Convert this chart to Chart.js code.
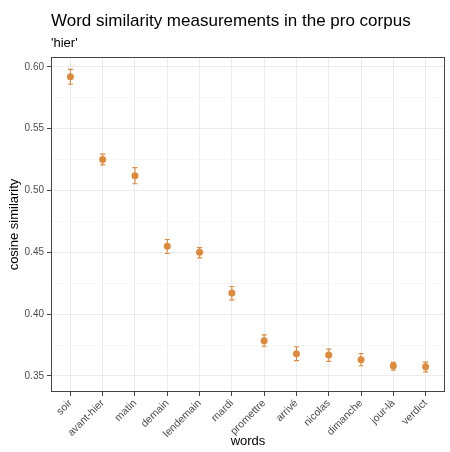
<!DOCTYPE html>
<html>
<head>
<meta charset="utf-8">
<script src="https://cdn.jsdelivr.net/npm/chart.js@4"></script>
<style>
  html, body { margin: 0; padding: 0; background: #fff; }
  #wrap { width: 450px; height: 452px; }
</style>
</head>
<body>
<div id="wrap"><canvas id="chart" width="450" height="452"></canvas></div>
<script>
// ---- data ----
const words = ['soir', 'avant-hier', 'matin', 'demain', 'lendemain', 'mardi',
               'promettre', 'arrivé', 'nicolas', 'dimanche', 'jour-là', 'verdict'];
const similarity = [0.592, 0.525, 0.512, 0.455, 0.450, 0.417,
                    0.3785, 0.368, 0.367, 0.363, 0.358, 0.3575];
const lower = [0.586, 0.5207, 0.5055, 0.449, 0.4455, 0.4115,
               0.374, 0.3624, 0.3618, 0.3582, 0.3546, 0.3533];
const upper = [0.598, 0.5294, 0.5185, 0.4604, 0.4538, 0.4223,
               0.3832, 0.3736, 0.3717, 0.3681, 0.361, 0.3612];
const yTicks = [0.35, 0.375, 0.40, 0.425, 0.45, 0.475, 0.50, 0.525, 0.55, 0.575, 0.60];
const yLabelled = [0.35, 0.40, 0.45, 0.50, 0.55, 0.60];

const ORANGE = '#dd8a3b';
const FONT = "'Liberation Sans', Arial, sans-serif";

const isMajor = v => yLabelled.some(t => Math.abs(t - v) < 1e-6);

// error bars + panel border + titles
const extras = {
    id: 'extras',
    beforeDatasetsDraw(chart) {
        const { ctx } = chart;
        const x = chart.scales.x, y = chart.scales.y;
        ctx.save();
        ctx.strokeStyle = ORANGE;
        ctx.lineWidth = 1.1;
        words.forEach((w, i) => {
            const px = x.getPixelForValue(i);
            const top = y.getPixelForValue(upper[i]);
            const bot = y.getPixelForValue(lower[i]);
            ctx.beginPath();
            ctx.moveTo(px, top); ctx.lineTo(px, bot);
            ctx.moveTo(px - 2.5, top); ctx.lineTo(px + 2.5, top);
            ctx.moveTo(px - 2.5, bot); ctx.lineTo(px + 2.5, bot);
            ctx.stroke();
        });
        ctx.restore();
    },
    afterDraw(chart) {
        const { ctx, chartArea: a } = chart;
        ctx.save();
        ctx.strokeStyle = '#444';
        ctx.lineWidth = 1;
        ctx.strokeRect(a.left + 0.5, a.top + 0.5, a.right - a.left - 1, a.bottom - a.top - 1);
        ctx.fillStyle = '#000';
        ctx.textBaseline = 'alphabetic';
        ctx.textAlign = 'left';
        ctx.font = `17px ${FONT}`;
        ctx.fillText('Word similarity measurements in the pro corpus', a.left, 26);
        ctx.font = `13px ${FONT}`;
        ctx.fillText("'hier'", a.left, 47);
        ctx.restore();
    }
};

new Chart(document.getElementById('chart'), {
    type: 'scatter',
    data: {
        datasets: [{
            data: similarity.map((v, i) => ({ x: i, y: v })),
            backgroundColor: ORANGE,
            borderColor: ORANGE,
            pointRadius: 3.5,
            pointHoverRadius: 3.5,
            borderWidth: 0
        }]
    },
    options: {
        responsive: false,
        animation: false,
        layout: { padding: { top: 57, right: 5, left: 0, bottom: 0 } },
        plugins: { legend: { display: false }, tooltip: { enabled: false } },
        scales: {
            x: {
                type: 'linear',
                min: -0.6,
                max: 11.6,
                afterBuildTicks: s => { s.ticks = words.map((w, i) => ({ value: i })); },
                afterFit: s => { s.height = 60; },
                grid: { color: '#ebebeb', lineWidth: 1, tickColor: '#444', tickLength: 4 },
                border: { display: false },
                ticks: {
                    autoSkip: false,
                    maxRotation: 45,
                    minRotation: 45,
                    padding: 1,
                    color: '#4d4d4d',
                    font: { family: FONT, size: 10.5 },
                    callback: v => words[v]
                },
                title: {
                    display: true,
                    text: 'words',
                    color: '#000',
                    font: { family: FONT, size: 13 },
                    padding: { top: 0, bottom: 3 }
                }
            },
            y: {
                min: 0.337,
                max: 0.608,
                afterBuildTicks: s => { s.ticks = yTicks.map(v => ({ value: v })); },
                afterFit: s => { s.width = 51; },
                grid: {
                    color: c => isMajor(c.tick.value) ? '#ebebeb' : '#f4f4f4',
                    lineWidth: c => isMajor(c.tick.value) ? 1 : 0.8,
                    tickColor: c => isMajor(c.tick.value) ? '#444' : 'rgba(0,0,0,0)',
                    tickLength: 4
                },
                border: { display: false },
                ticks: {
                    autoSkip: false,
                    padding: 3,
                    color: '#4d4d4d',
                    font: { family: FONT, size: 10 },
                    callback: v => isMajor(v) ? v.toFixed(2) : ''
                },
                title: {
                    display: true,
                    text: 'cosine similarity',
                    color: '#000',
                    font: { family: FONT, size: 13 },
                    padding: { top: 7, bottom: 2 }
                }
            }
        }
    },
    plugins: [extras]
});
</script>
</body>
</html>
